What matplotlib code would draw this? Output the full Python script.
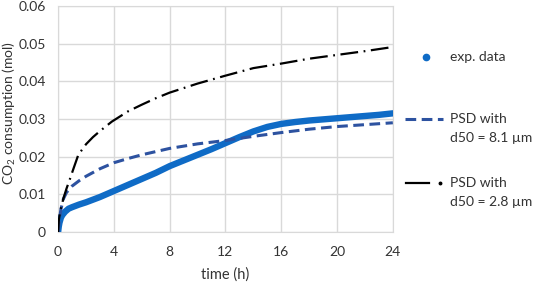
import matplotlib
matplotlib.use("Agg")
import matplotlib.pyplot as plt
from matplotlib.lines import Line2D

plt.rcParams['font.family'] = ['Lato', 'DejaVu Sans']
plt.rcParams['mathtext.default'] = 'regular'

# experimental data (h, mol)
t_exp = [0, 0.05, 0.1, 0.2, 0.3, 0.5, 0.75, 1, 1.5, 2, 3, 4, 5, 6, 7, 8, 9, 10,
         11, 12, 13, 14, 15, 16, 17, 18, 19, 20, 21, 22, 23, 24]
co2_exp = [0, 0.0015, 0.0025, 0.0038, 0.0045, 0.0054, 0.0062, 0.0066, 0.0073,
           0.0079, 0.0093, 0.0109, 0.0125, 0.0141, 0.0157, 0.0175, 0.0190, 0.0205,
           0.0220, 0.0236, 0.0252, 0.0267, 0.0279, 0.0287, 0.0292, 0.0296, 0.0299,
           0.0302, 0.0305, 0.0308, 0.0311, 0.0315]

# model, d50 = 8.1 um
t_81 = [0, 0.1, 0.2, 0.38, 0.6, 1, 1.5, 2, 3, 4, 5, 6, 8, 10, 12, 14, 16, 18,
        20, 22, 24]
co2_81 = [0, 0.0035, 0.0060, 0.0088, 0.0105, 0.0122, 0.0136, 0.0148, 0.0168,
          0.0184, 0.0195, 0.0205, 0.0222, 0.0234, 0.0243, 0.0254, 0.0264, 0.0273,
          0.0280, 0.0285, 0.0290]

# model, d50 = 2.8 um
t_28 = [0, 0.05, 0.14, 0.38, 0.6, 0.86, 1.1, 1.45, 2, 2.5, 3, 3.85, 5, 6, 7, 8,
        10, 12, 14, 16, 18, 20, 22, 24]
co2_28 = [0, 0.003, 0.0054, 0.0089, 0.0115, 0.0142, 0.0168, 0.0205, 0.0233,
          0.0252, 0.0268, 0.0293, 0.032, 0.0338, 0.0355, 0.037, 0.0394, 0.0415,
          0.0435, 0.0447, 0.046, 0.047, 0.048, 0.0491]

x_ticks = [0, 4, 8, 12, 16, 20, 24]
y_ticks = [0, 0.01, 0.02, 0.03, 0.04, 0.05, 0.06]
y_labels = ["0", "0.01", "0.02", "0.03", "0.04", "0.05", "0.06"]

blue = "#0F6BC6"
navy = "#2D52A0"
grid = "#D9D9D9"
txt = "#333333"
W, H = 533, 282

fig = plt.figure(figsize=(5.33, 2.82), dpi=100)
ax = fig.add_axes([0.109, 0.177, 0.628, 0.802])

ax.plot(t_exp, co2_exp, color=blue, lw=4.6, solid_capstyle='round', zorder=3)
ax.plot(t_81, co2_81, color=navy, lw=2.2, linestyle=(0, (3.5, 1.8)), zorder=4)
ax.plot(t_28, co2_28, color="black", lw=1.6, linestyle=(0, (8, 2.5, 0.8, 2.5)),
        zorder=4)

ax.set_xlim(0, 24)
ax.set_ylim(0, 0.06)
ax.set_xticks(x_ticks)
ax.set_yticks(y_ticks)
ax.set_yticklabels(y_labels)
ax.tick_params(length=0, labelsize=10, colors=txt)
ax.tick_params(axis='x', pad=10)
ax.tick_params(axis='y', pad=9)
ax.grid(True, color=grid, lw=1)
ax.set_axisbelow(True)
for s in ax.spines.values():
    s.set_color(grid)

ax.set_xlabel("time (h)", fontsize=10.5, color=txt, labelpad=7)
ax.set_ylabel("CO$_2$ consumption (mol)", fontsize=10, color=txt)
ax.yaxis.set_label_coords(-0.121, 0.527)


# legend drawn in figure pixels (handle aligned with first label line, as in Excel)
def fx(px):
    return px / W


def fy(py):
    return 1 - py / H


leg_fs = 10
fig.add_artist(Line2D([fx(426)], [fy(57)], color=blue, marker='o', ms=4.5, lw=0,
                      transform=fig.transFigure))
fig.text(fx(450), fy(57), "exp. data", fontsize=leg_fs, color=txt, va='center')

fig.add_artist(Line2D([fx(405), fx(443)], [fy(119), fy(119)], color=navy, lw=2.2,
                      linestyle=(0, (3.5, 1.8)), transform=fig.transFigure))
fig.text(fx(450), fy(119), "PSD with", fontsize=leg_fs, color=txt, va='center')
fig.text(fx(450), fy(138), "d50 = 8.1 µm", fontsize=leg_fs, color=txt, va='center')

fig.add_artist(Line2D([fx(406), fx(429)], [fy(183), fy(183)], color="black", lw=1.6,
                      transform=fig.transFigure))
fig.add_artist(Line2D([fx(440)], [fy(183)], color="black", marker='o', ms=1.8, lw=0,
                      transform=fig.transFigure))
fig.text(fx(450), fy(183), "PSD with", fontsize=leg_fs, color=txt, va='center')
fig.text(fx(450), fy(202), "d50 = 2.8 µm", fontsize=leg_fs, color=txt, va='center')

fig.savefig("out.png", dpi=100)
